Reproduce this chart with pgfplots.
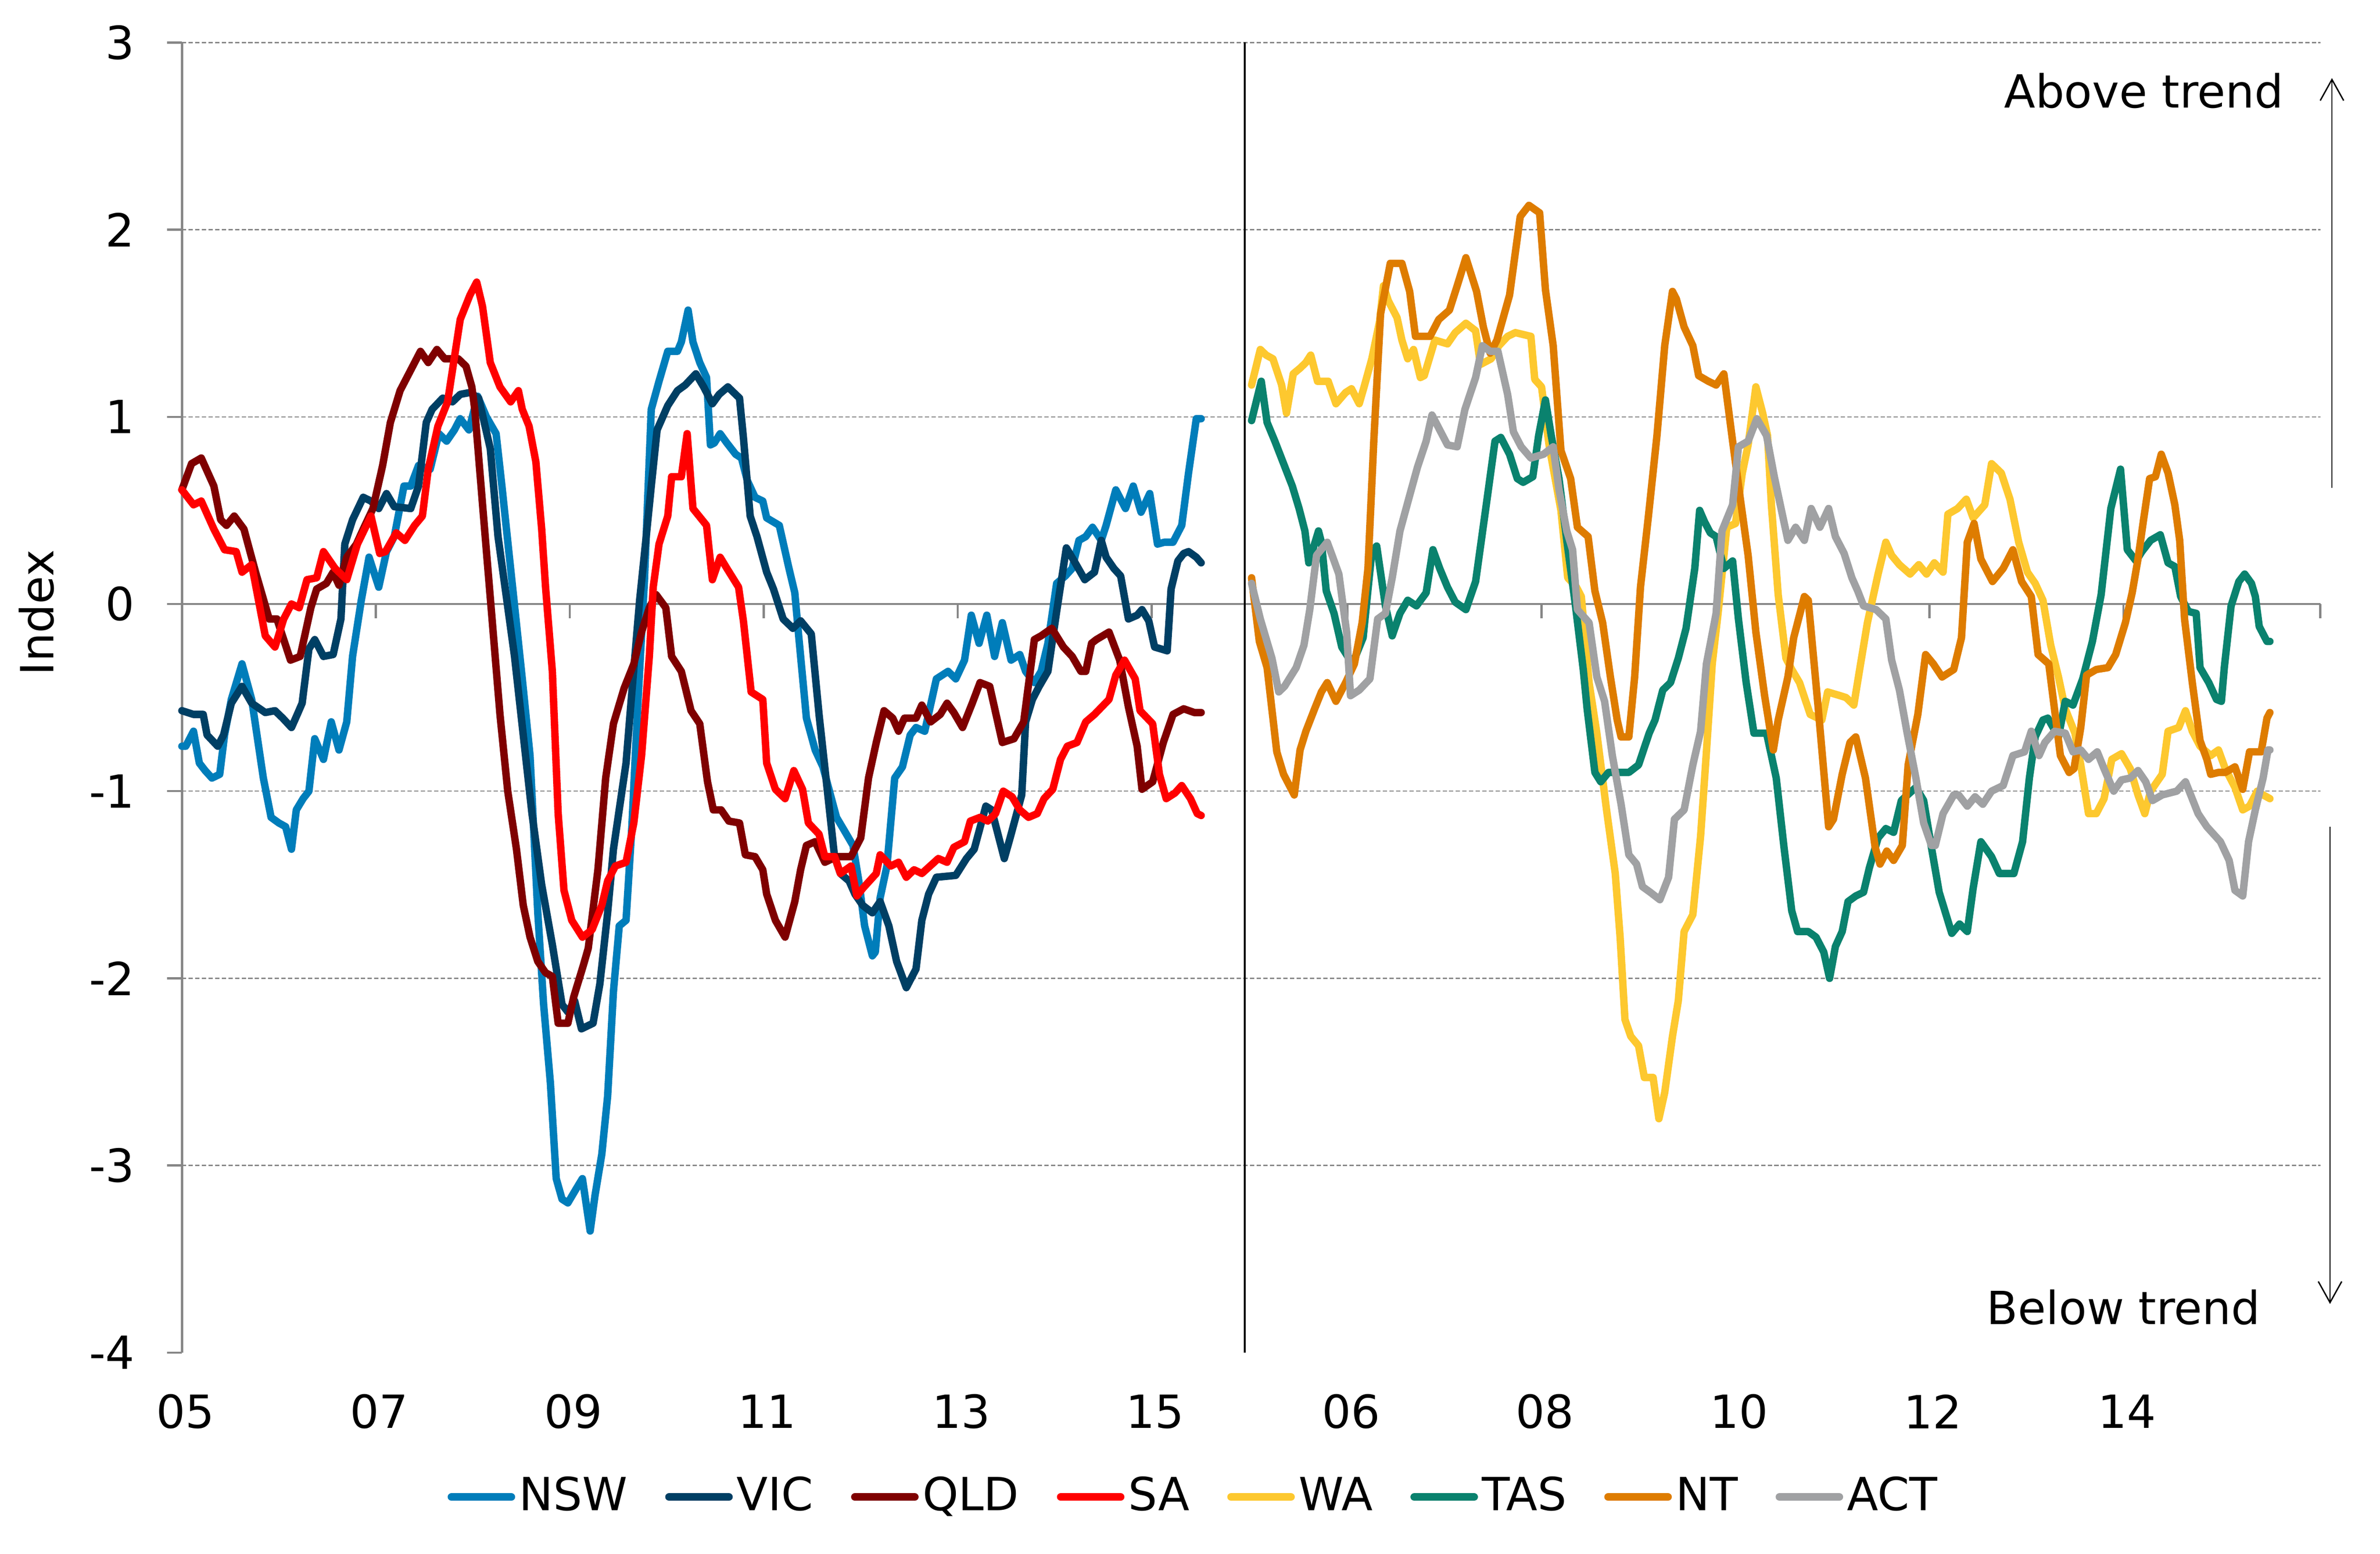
\documentclass[border=0pt]{standalone}
\usepackage{fontspec}
\setmainfont{DejaVu Sans}
\usepackage{pgfplots}
\pgfplotsset{compat=1.18}
\usetikzlibrary{arrows.meta}
\newcommand\fsz{\fontsize{11.7pt}{14pt}\selectfont}
\definecolor{cNSW}{RGB}{0,125,186}
\definecolor{cVIC}{RGB}{0,63,100}
\definecolor{cQLD}{RGB}{127,0,0}
\definecolor{cSA}{RGB}{255,0,0}
\definecolor{cWA}{RGB}{253,200,47}
\definecolor{cTAS}{RGB}{10,130,110}
\definecolor{cNT}{RGB}{222,124,0}
\definecolor{cACT}{RGB}{160,161,163}
\definecolor{gridgray}{RGB}{134,134,134}
\begin{document}
\fsz
\begin{tikzpicture}
\useasboundingbox (-46.6pt,-51.6pt) rectangle (563.2pt,346.6pt);
\begin{axis}[
  at={(0,0)}, anchor=south west,
  width=547.9pt, height=335.7pt, scale only axis,
  xmin=0, xmax=22.05, ymin=-4, ymax=3,
  clip=false,
  axis line style={draw=none},
  tick style={draw=none},
  tick align=inside,
  xtick={0,2,4,6,8,10,12.02,14.02,16.02,18.02,20.02},
  xticklabels={05,07,09,11,13,15,06,08,10,12,14},
  ytick={-4,-3,-2,-1,0,1,2,3},
  yticklabels={-4,-3,-2,-1,0,1,2,3},
  xticklabel style={anchor=center, inner sep=0pt, yshift=-15.1pt, xshift=0.9pt, font=\fsz},
  yticklabel style={anchor=east, inner sep=0pt, xshift=-11.9pt, font=\fsz},
  ylabel={Index},
  ylabel style={at={(axis description cs:-0.0679,0.5648)}, anchor=center, font=\fsz},
  every axis plot/.append style={line width=1.9pt, line join=round, line cap=round},
  legend columns=8,
  legend style={at={(0.4735,-0.1102)}, anchor=center, draw=none, fill=none,
    inner sep=0pt, font=\fsz, nodes={inner sep=1pt},
    /tikz/every even column/.append style={column sep=8.7pt}},
  legend image code/.code={\draw[#1, line width=2pt, line cap=round] (1pt,0pt) -- (16.3pt,0pt);},
]
% grid lines and axes
\pgfplotsinvokeforeach{-3,-2,-1,1,2,3}{
  \draw[gridgray, line width=0.3pt, dash pattern=on 1.1pt off 0.6pt] (axis cs:0,#1) -- (axis cs:22.05,#1);
}
\draw[gridgray, line width=0.55pt] (axis cs:0,0) -- (axis cs:22.05,0);
\draw[gridgray, line width=0.6pt] (axis cs:0,-4) -- (axis cs:0,3);
\pgfplotsinvokeforeach{-4,-3,-2,-1,0,1,2,3}{
  \draw[gridgray, line width=0.55pt] (axis cs:0,#1) -- ++(-3.8pt,0pt);
}
\pgfplotsinvokeforeach{2,4,6,8,10,12.02,14.02,16.02,18.02,20.02,22.05}{
  \draw[gridgray, line width=0.55pt] (axis cs:#1,0) -- ++(0pt,-3.6pt);
}
\draw[black, line width=0.4pt] (axis cs:10.96,-4) -- (axis cs:10.96,3);

% NSW
\addplot[cNSW] coordinates {
(0,-0.76) (0.04,-0.76) (0.12,-0.68) (0.18,-0.85) (0.24,-0.89) (0.31,-0.93) (0.39,-0.91) (0.44,-0.70) (0.51,-0.51) (0.62,-0.32) (0.72,-0.51) (0.84,-0.93) (0.92,-1.14) (1.00,-1.17) (1.07,-1.19) (1.13,-1.31) (1.18,-1.10) (1.25,-1.04) (1.31,-1.00) (1.37,-0.72) (1.46,-0.83) (1.54,-0.63) (1.62,-0.78) (1.70,-0.63) (1.76,-0.28) (1.85,0.02) (1.93,0.25) (2.03,0.09) (2.11,0.28) (2.19,0.36) (2.29,0.63) (2.36,0.63) (2.44,0.74) (2.56,0.72) (2.65,0.91) (2.73,0.87) (2.81,0.93) (2.87,0.99) (2.96,0.93) (3.05,1.11) (3.14,1.00) (3.24,0.91) (3.30,0.63) (3.41,0.09) (3.51,-0.40) (3.59,-0.81) (3.67,-1.65) (3.73,-2.14) (3.80,-2.56) (3.86,-3.07) (3.92,-3.18) (3.98,-3.20) (4.06,-3.13) (4.13,-3.07) (4.21,-3.35) (4.26,-3.16) (4.33,-2.94) (4.39,-2.63) (4.45,-2.07) (4.51,-1.72) (4.58,-1.69) (4.64,-1.19) (4.70,-0.55) (4.77,0.13) (4.84,1.04) (4.92,1.19) (5.01,1.35) (5.11,1.35) (5.15,1.40) (5.22,1.57) (5.27,1.40) (5.34,1.29) (5.41,1.21) (5.45,0.85) (5.49,0.86) (5.55,0.91) (5.62,0.86) (5.71,0.80) (5.77,0.78) (5.83,0.66) (5.91,0.57) (5.99,0.55) (6.03,0.46) (6.16,0.42) (6.26,0.19) (6.32,0.06) (6.36,-0.17) (6.44,-0.61) (6.53,-0.78) (6.61,-0.87) (6.75,-1.14) (6.83,-1.21) (6.92,-1.29) (6.98,-1.48) (7.04,-1.72) (7.12,-1.88) (7.15,-1.86) (7.20,-1.57) (7.27,-1.40) (7.35,-0.93) (7.43,-0.87) (7.51,-0.70) (7.57,-0.66) (7.66,-0.68) (7.78,-0.40) (7.90,-0.36) (7.98,-0.40) (8.07,-0.30) (8.14,-0.06) (8.22,-0.21) (8.30,-0.06) (8.38,-0.28) (8.46,-0.10) (8.55,-0.30) (8.64,-0.27) (8.70,-0.36) (8.79,-0.42) (8.86,-0.36) (8.93,-0.21) (9.02,0.11) (9.11,0.15) (9.18,0.19) (9.25,0.34) (9.32,0.36) (9.39,0.41) (9.48,0.34) (9.53,0.42) (9.63,0.61) (9.73,0.51) (9.81,0.63) (9.89,0.49) (9.98,0.59) (10.06,0.32) (10.13,0.33) (10.22,0.33) (10.31,0.42) (10.38,0.70) (10.46,0.99) (10.51,0.99)
};
\addlegendentry{NSW}
% VIC
\addplot[cVIC] coordinates {
(0,-0.57) (0.12,-0.59) (0.22,-0.59) (0.26,-0.70) (0.37,-0.76) (0.43,-0.70) (0.51,-0.53) (0.62,-0.44) (0.72,-0.53) (0.86,-0.58) (0.96,-0.57) (1.04,-0.61) (1.13,-0.66) (1.19,-0.59) (1.24,-0.53) (1.31,-0.24) (1.37,-0.19) (1.46,-0.28) (1.56,-0.27) (1.64,-0.08) (1.68,0.32) (1.76,0.45) (1.87,0.57) (1.95,0.55) (2.03,0.51) (2.11,0.59) (2.19,0.52) (2.36,0.51) (2.44,0.63) (2.52,0.97) (2.58,1.04) (2.69,1.10) (2.79,1.08) (2.87,1.12) (2.97,1.13) (3.06,1.10) (3.18,0.83) (3.26,0.36) (3.34,0.06) (3.43,-0.28) (3.52,-0.70) (3.61,-1.12) (3.71,-1.50) (3.82,-1.82) (3.92,-2.14) (3.98,-2.18) (4.05,-2.12) (4.12,-2.27) (4.24,-2.24) (4.31,-2.03) (4.39,-1.65) (4.45,-1.31) (4.58,-0.85) (4.64,-0.47) (4.72,0.02) (4.78,0.32) (4.84,0.63) (4.90,0.93) (5.01,1.06) (5.11,1.14) (5.19,1.17) (5.30,1.23) (5.38,1.16) (5.47,1.07) (5.54,1.12) (5.63,1.16) (5.75,1.10) (5.79,0.89) (5.86,0.47) (5.93,0.36) (6.03,0.17) (6.10,0.08) (6.20,-0.08) (6.30,-0.13) (6.38,-0.09) (6.49,-0.16) (6.57,-0.59) (6.65,-0.97) (6.73,-1.35) (6.79,-1.44) (6.88,-1.48) (6.94,-1.55) (7.02,-1.61) (7.12,-1.65) (7.20,-1.59) (7.29,-1.72) (7.37,-1.91) (7.47,-2.05) (7.57,-1.95) (7.63,-1.69) (7.70,-1.55) (7.78,-1.46) (7.98,-1.45) (8.09,-1.36) (8.17,-1.31) (8.29,-1.08) (8.35,-1.10) (8.48,-1.36) (8.54,-1.25) (8.66,-1.02) (8.70,-0.63) (8.77,-0.51) (8.84,-0.44) (8.93,-0.36) (9.02,-0.04) (9.12,0.30) (9.20,0.23) (9.31,0.13) (9.41,0.17) (9.48,0.34) (9.53,0.25) (9.61,0.19) (9.68,0.15) (9.76,-0.08) (9.85,-0.06) (9.90,-0.03) (9.97,-0.09) (10.03,-0.23) (10.16,-0.25) (10.20,0.08) (10.27,0.23) (10.33,0.27) (10.38,0.28) (10.46,0.25) (10.51,0.22)
};
\addlegendentry{VIC}
% QLD
\addplot[cQLD] coordinates {
(0,0.61) (0.10,0.75) (0.20,0.78) (0.33,0.63) (0.40,0.45) (0.46,0.42) (0.54,0.47) (0.64,0.40) (0.76,0.17) (0.90,-0.08) (0.98,-0.08) (1.12,-0.30) (1.22,-0.28) (1.33,-0.02) (1.39,0.08) (1.49,0.11) (1.56,0.17) (1.62,0.10) (1.70,0.25) (1.80,0.32) (1.87,0.40) (1.97,0.51) (2.07,0.74) (2.15,0.97) (2.25,1.14) (2.34,1.23) (2.46,1.35) (2.54,1.29) (2.63,1.36) (2.71,1.31) (2.85,1.31) (2.93,1.27) (2.99,1.16) (3.02,1.04) (3.11,0.47) (3.20,-0.09) (3.28,-0.59) (3.36,-1.00) (3.45,-1.31) (3.52,-1.61) (3.59,-1.78) (3.67,-1.91) (3.75,-1.97) (3.82,-1.99) (3.88,-2.24) (3.98,-2.24) (4.04,-2.10) (4.14,-1.93) (4.19,-1.84) (4.29,-1.42) (4.37,-0.93) (4.45,-0.64) (4.56,-0.45) (4.66,-0.32) (4.74,-0.15) (4.82,-0.02) (4.89,0.05) (4.99,-0.02) (5.05,-0.28) (5.15,-0.36) (5.25,-0.57) (5.34,-0.64) (5.42,-0.95) (5.48,-1.10) (5.56,-1.10) (5.64,-1.16) (5.75,-1.17) (5.81,-1.34) (5.91,-1.35) (5.99,-1.42) (6.03,-1.55) (6.12,-1.69) (6.22,-1.78) (6.32,-1.59) (6.38,-1.42) (6.44,-1.29) (6.53,-1.27) (6.63,-1.38) (6.75,-1.35) (6.90,-1.35) (7.00,-1.25) (7.08,-0.93) (7.16,-0.74) (7.24,-0.57) (7.33,-0.61) (7.39,-0.68) (7.45,-0.61) (7.57,-0.61) (7.63,-0.54) (7.72,-0.63) (7.82,-0.59) (7.89,-0.53) (7.96,-0.58) (8.05,-0.66) (8.15,-0.53) (8.23,-0.42) (8.33,-0.44) (8.46,-0.74) (8.58,-0.72) (8.68,-0.63) (8.79,-0.19) (8.86,-0.17) (8.97,-0.13) (9.09,-0.23) (9.18,-0.28) (9.27,-0.36) (9.32,-0.36) (9.38,-0.21) (9.43,-0.19) (9.56,-0.15) (9.67,-0.30) (9.76,-0.55) (9.85,-0.76) (9.90,-0.99) (10.01,-0.95) (10.12,-0.74) (10.22,-0.59) (10.33,-0.56) (10.44,-0.58) (10.51,-0.58)
};
\addlegendentry{QLD}
% SA
\addplot[cSA] coordinates {
(0,0.61) (0.12,0.53) (0.20,0.55) (0.33,0.40) (0.44,0.29) (0.56,0.28) (0.62,0.17) (0.72,0.21) (0.86,-0.17) (0.96,-0.23) (1.05,-0.08) (1.13,0.00) (1.21,-0.02) (1.29,0.13) (1.39,0.14) (1.46,0.28) (1.58,0.19) (1.70,0.13) (1.81,0.32) (1.95,0.47) (2.04,0.27) (2.10,0.28) (2.21,0.38) (2.30,0.34) (2.40,0.42) (2.48,0.47) (2.54,0.72) (2.64,0.95) (2.74,1.08) (2.87,1.52) (2.97,1.65) (3.04,1.72) (3.10,1.59) (3.18,1.29) (3.28,1.16) (3.39,1.08) (3.47,1.14) (3.51,1.04) (3.58,0.95) (3.65,0.76) (3.71,0.40) (3.75,0.09) (3.82,-0.36) (3.88,-1.12) (3.94,-1.53) (4.02,-1.69) (4.13,-1.78) (4.23,-1.74) (4.33,-1.61) (4.39,-1.48) (4.47,-1.40) (4.58,-1.38) (4.66,-1.17) (4.74,-0.81) (4.82,-0.28) (4.86,0.09) (4.92,0.32) (5.01,0.47) (5.05,0.68) (5.15,0.68) (5.21,0.91) (5.27,0.51) (5.41,0.42) (5.47,0.13) (5.55,0.25) (5.62,0.19) (5.74,0.09) (5.79,-0.09) (5.87,-0.47) (5.99,-0.51) (6.03,-0.85) (6.12,-0.99) (6.22,-1.04) (6.31,-0.89) (6.40,-0.99) (6.46,-1.17) (6.57,-1.23) (6.63,-1.35) (6.73,-1.35) (6.79,-1.44) (6.90,-1.40) (6.96,-1.56) (7.02,-1.52) (7.16,-1.44) (7.20,-1.34) (7.31,-1.40) (7.39,-1.38) (7.47,-1.46) (7.55,-1.42) (7.63,-1.44) (7.80,-1.36) (7.89,-1.38) (7.96,-1.30) (8.07,-1.27) (8.13,-1.16) (8.23,-1.14) (8.31,-1.16) (8.39,-1.12) (8.47,-1.00) (8.56,-1.03) (8.64,-1.10) (8.73,-1.14) (8.82,-1.12) (8.89,-1.04) (8.98,-0.99) (9.06,-0.83) (9.13,-0.76) (9.23,-0.74) (9.32,-0.63) (9.41,-0.59) (9.56,-0.51) (9.63,-0.38) (9.72,-0.30) (9.83,-0.40) (9.88,-0.57) (10.01,-0.64) (10.08,-0.91) (10.15,-1.04) (10.24,-1.01) (10.31,-0.97) (10.40,-1.04) (10.47,-1.12) (10.51,-1.13)
};
\addlegendentry{SA}
% WA (right panel)
\addplot[cWA, x filter/.expression={x+11.02}] coordinates {
(0.01,1.17) (0.10,1.36) (0.16,1.33) (0.23,1.31) (0.32,1.17) (0.37,1.02) (0.44,1.23) (0.51,1.26) (0.57,1.29) (0.62,1.33) (0.69,1.19) (0.80,1.19) (0.88,1.07) (0.98,1.13) (1.04,1.15) (1.12,1.07) (1.17,1.16) (1.25,1.31) (1.33,1.51) (1.37,1.70) (1.42,1.62) (1.51,1.53) (1.56,1.41) (1.62,1.31) (1.68,1.36) (1.75,1.21) (1.79,1.22) (1.90,1.41) (2.03,1.39) (2.11,1.45) (2.22,1.50) (2.32,1.46) (2.37,1.28) (2.48,1.31) (2.56,1.38) (2.65,1.43) (2.73,1.45) (2.89,1.43) (2.93,1.20) (3.00,1.16) (3.08,0.84) (3.14,0.67) (3.20,0.50) (3.27,0.14) (3.36,0.09) (3.41,0.04) (3.49,-0.42) (3.57,-0.69) (3.67,-1.10) (3.76,-1.44) (3.81,-1.78) (3.86,-2.22) (3.92,-2.31) (4.00,-2.36) (4.06,-2.53) (4.15,-2.53) (4.21,-2.75) (4.27,-2.61) (4.35,-2.31) (4.41,-2.12) (4.47,-1.75) (4.56,-1.66) (4.64,-1.24) (4.70,-0.79) (4.76,-0.32) (4.82,-0.05) (4.91,0.41) (5.00,0.43) (5.07,0.70) (5.13,0.85) (5.21,1.16) (5.28,1.02) (5.33,0.90) (5.37,0.53) (5.44,0.05) (5.52,-0.29) (5.58,-0.35) (5.66,-0.42) (5.77,-0.59) (5.89,-0.62) (5.95,-0.47) (6.08,-0.49) (6.14,-0.50) (6.22,-0.54) (6.28,-0.35) (6.36,-0.10) (6.47,0.16) (6.55,0.33) (6.61,0.26) (6.69,0.21) (6.80,0.16) (6.89,0.21) (6.97,0.16) (7.05,0.22) (7.14,0.17) (7.19,0.48) (7.29,0.51) (7.38,0.56) (7.45,0.46) (7.57,0.53) (7.64,0.75) (7.74,0.70) (7.83,0.56) (7.92,0.33) (8.01,0.17) (8.09,0.11) (8.17,0.02) (8.25,-0.22) (8.33,-0.39) (8.40,-0.56) (8.50,-0.69) (8.56,-0.86) (8.64,-1.12) (8.72,-1.12) (8.80,-1.04) (8.88,-0.83) (8.98,-0.80) (9.07,-0.88) (9.15,-1.02) (9.22,-1.12) (9.28,-1.00) (9.40,-0.91) (9.46,-0.68) (9.57,-0.66) (9.64,-0.57) (9.71,-0.68) (9.79,-0.76) (9.90,-0.81) (9.98,-0.78) (10.05,-0.88) (10.15,-0.98) (10.23,-1.10) (10.30,-1.08) (10.38,-1.00) (10.44,-1.02) (10.51,-1.04)
};
\addlegendentry{WA}
% TAS
\addplot[cTAS, x filter/.expression={x+11.02}] coordinates {
(0.01,0.98) (0.11,1.19) (0.17,0.97) (0.25,0.87) (0.34,0.75) (0.43,0.63) (0.50,0.51) (0.56,0.39) (0.60,0.22) (0.70,0.39) (0.73,0.33) (0.78,0.07) (0.86,-0.05) (0.94,-0.23) (1.05,-0.32) (1.16,-0.18) (1.25,0.28) (1.30,0.31) (1.39,-0.01) (1.46,-0.17) (1.54,-0.05) (1.62,0.02) (1.71,-0.01) (1.81,0.06) (1.88,0.29) (1.95,0.19) (2.03,0.09) (2.11,0.01) (2.22,-0.03) (2.32,0.12) (2.43,0.53) (2.52,0.87) (2.58,0.89) (2.67,0.80) (2.75,0.67) (2.81,0.65) (2.91,0.68) (2.97,0.90) (3.04,1.09) (3.10,0.90) (3.18,0.67) (3.26,0.34) (3.35,-0.01) (3.43,-0.35) (3.47,-0.56) (3.55,-0.90) (3.61,-0.95) (3.69,-0.90) (3.78,-0.90) (3.90,-0.90) (4.00,-0.86) (4.11,-0.69) (4.17,-0.62) (4.25,-0.46) (4.33,-0.42) (4.41,-0.29) (4.49,-0.13) (4.58,0.19) (4.63,0.50) (4.68,0.44) (4.74,0.38) (4.80,0.36) (4.88,0.19) (4.97,0.23) (5.03,-0.08) (5.11,-0.42) (5.19,-0.69) (5.32,-0.69) (5.42,-0.93) (5.50,-1.30) (5.58,-1.64) (5.64,-1.75) (5.75,-1.75) (5.83,-1.78) (5.91,-1.86) (5.97,-2.00) (6.03,-1.83) (6.10,-1.75) (6.16,-1.59) (6.24,-1.56) (6.32,-1.54) (6.38,-1.41) (6.47,-1.25) (6.55,-1.20) (6.63,-1.22) (6.71,-1.05) (6.86,-0.98) (6.94,-1.05) (7.02,-1.30) (7.10,-1.54) (7.23,-1.76) (7.31,-1.71) (7.39,-1.75) (7.45,-1.52) (7.53,-1.27) (7.64,-1.35) (7.72,-1.44) (7.87,-1.44) (7.96,-1.27) (8.03,-0.93) (8.09,-0.71) (8.17,-0.62) (8.22,-0.61) (8.33,-0.71) (8.40,-0.52) (8.48,-0.54) (8.58,-0.40) (8.68,-0.20) (8.77,0.05) (8.87,0.51) (8.97,0.72) (9.04,0.29) (9.13,0.23) (9.19,0.28) (9.28,0.34) (9.38,0.37) (9.46,0.22) (9.53,0.20) (9.59,0.04) (9.67,-0.04) (9.75,-0.05) (9.79,-0.34) (9.88,-0.42) (9.96,-0.51) (10.01,-0.52) (10.04,-0.34) (10.11,-0.01) (10.19,0.12) (10.25,0.16) (10.32,0.11) (10.36,0.04) (10.40,-0.12) (10.48,-0.20) (10.51,-0.20)
};
\addlegendentry{TAS}
% NT
\addplot[cNT, x filter/.expression={x+11.02}] coordinates {
(0.01,0.14) (0.09,-0.20) (0.17,-0.34) (0.27,-0.79) (0.34,-0.91) (0.45,-1.02) (0.51,-0.78) (0.57,-0.68) (0.66,-0.56) (0.73,-0.47) (0.79,-0.42) (0.88,-0.52) (0.98,-0.42) (1.07,-0.32) (1.15,-0.10) (1.21,0.19) (1.27,0.87) (1.34,1.55) (1.44,1.82) (1.56,1.82) (1.64,1.67) (1.70,1.43) (1.85,1.43) (1.94,1.52) (2.05,1.57) (2.13,1.70) (2.22,1.85) (2.33,1.67) (2.40,1.48) (2.47,1.34) (2.54,1.41) (2.67,1.65) (2.78,2.07) (2.87,2.13) (2.98,2.09) (3.04,1.68) (3.12,1.38) (3.20,0.82) (3.30,0.67) (3.37,0.41) (3.48,0.36) (3.55,0.07) (3.63,-0.10) (3.71,-0.39) (3.78,-0.62) (3.82,-0.71) (3.90,-0.71) (3.96,-0.39) (4.02,0.09) (4.10,0.46) (4.19,0.90) (4.27,1.38) (4.35,1.67) (4.39,1.63) (4.47,1.48) (4.56,1.38) (4.62,1.22) (4.72,1.19) (4.80,1.17) (4.88,1.23) (4.97,0.87) (5.05,0.56) (5.13,0.26) (5.21,-0.15) (5.30,-0.49) (5.39,-0.78) (5.44,-0.62) (5.54,-0.39) (5.60,-0.18) (5.71,0.04) (5.75,0.02) (5.85,-0.54) (5.96,-1.19) (6.01,-1.15) (6.10,-0.91) (6.18,-0.74) (6.24,-0.71) (6.34,-0.93) (6.44,-1.30) (6.49,-1.39) (6.56,-1.32) (6.63,-1.37) (6.72,-1.29) (6.78,-0.86) (6.88,-0.59) (6.96,-0.27) (7.04,-0.32) (7.13,-0.39) (7.25,-0.35) (7.33,-0.18) (7.39,0.33) (7.46,0.43) (7.53,0.24) (7.65,0.12) (7.76,0.19) (7.86,0.29) (7.95,0.12) (8.05,0.04) (8.12,-0.27) (8.23,-0.32) (8.35,-0.81) (8.44,-0.90) (8.49,-0.88) (8.56,-0.66) (8.62,-0.38) (8.72,-0.35) (8.84,-0.34) (8.92,-0.27) (9.02,-0.10) (9.09,0.06) (9.15,0.24) (9.21,0.46) (9.27,0.67) (9.33,0.68) (9.39,0.80) (9.46,0.70) (9.53,0.53) (9.58,0.34) (9.63,-0.08) (9.71,-0.42) (9.79,-0.73) (9.86,-0.83) (9.90,-0.91) (9.98,-0.90) (10.05,-0.90) (10.15,-0.87) (10.23,-0.99) (10.30,-0.79) (10.42,-0.79) (10.48,-0.61) (10.51,-0.58)
};
\addlegendentry{NT}
% ACT
\addplot[cACT, x filter/.expression={x+11.02}] coordinates {
(0.01,0.11) (0.10,-0.08) (0.22,-0.29) (0.29,-0.47) (0.35,-0.44) (0.47,-0.34) (0.55,-0.22) (0.61,-0.03) (0.68,0.26) (0.79,0.33) (0.84,0.26) (0.91,0.16) (0.99,-0.15) (1.03,-0.49) (1.12,-0.46) (1.23,-0.40) (1.31,-0.08) (1.39,-0.05) (1.46,0.14) (1.54,0.39) (1.64,0.58) (1.72,0.73) (1.81,0.87) (1.87,1.01) (1.98,0.90) (2.03,0.85) (2.13,0.84) (2.21,1.04) (2.32,1.21) (2.39,1.38) (2.47,1.35) (2.55,1.35) (2.65,1.12) (2.71,0.92) (2.79,0.84) (2.89,0.78) (3.02,0.80) (3.12,0.84) (3.18,0.61) (3.26,0.39) (3.32,0.29) (3.37,-0.03) (3.49,-0.10) (3.57,-0.39) (3.65,-0.52) (3.73,-0.81) (3.82,-1.07) (3.90,-1.34) (3.98,-1.39) (4.04,-1.51) (4.12,-1.54) (4.22,-1.58) (4.31,-1.46) (4.37,-1.15) (4.47,-1.10) (4.56,-0.86) (4.64,-0.68) (4.70,-0.32) (4.80,-0.05) (4.86,0.39) (4.97,0.53) (5.03,0.84) (5.13,0.87) (5.22,0.99) (5.32,0.90) (5.40,0.68) (5.54,0.34) (5.62,0.41) (5.71,0.34) (5.78,0.51) (5.87,0.41) (5.96,0.51) (6.03,0.36) (6.12,0.27) (6.20,0.14) (6.26,0.07) (6.32,-0.01) (6.45,-0.03) (6.55,-0.08) (6.61,-0.30) (6.69,-0.46) (6.77,-0.69) (6.86,-0.93) (6.94,-1.17) (7.02,-1.29) (7.06,-1.29) (7.14,-1.12) (7.25,-1.02) (7.30,-1.02) (7.39,-1.08) (7.47,-1.03) (7.55,-1.07) (7.64,-1.00) (7.76,-0.97) (7.86,-0.81) (7.98,-0.79) (8.05,-0.68) (8.13,-0.81) (8.19,-0.74) (8.29,-0.68) (8.40,-0.69) (8.48,-0.79) (8.56,-0.78) (8.64,-0.83) (8.73,-0.79) (8.80,-0.88) (8.90,-1.00) (8.98,-0.94) (9.07,-0.93) (9.15,-0.89) (9.23,-0.95) (9.30,-1.05) (9.40,-1.02) (9.55,-1.00) (9.64,-0.95) (9.77,-1.12) (9.86,-1.19) (10.00,-1.27) (10.09,-1.37) (10.15,-1.53) (10.23,-1.56) (10.29,-1.27) (10.36,-1.10) (10.44,-0.93) (10.49,-0.78) (10.51,-0.78)
};
\addlegendentry{ACT}

% annotations
\node[anchor=base east, inner sep=0pt, font=\fsz] at (axis cs:21.68,2.65) {Above trend};
\node[anchor=base east, inner sep=0pt, font=\fsz] at (axis cs:21.44,-3.85) {Below trend};
\draw[black, line width=0.35pt, -{Straight Barb[length=5.4pt,width=6pt]}] (axis cs:22.17,0.62) -- (axis cs:22.17,2.81);
\draw[black, line width=0.35pt, -{Straight Barb[length=5.4pt,width=6pt]}] (axis cs:22.15,-1.19) -- (axis cs:22.15,-3.74);
\end{axis}
\end{tikzpicture}
\end{document}
